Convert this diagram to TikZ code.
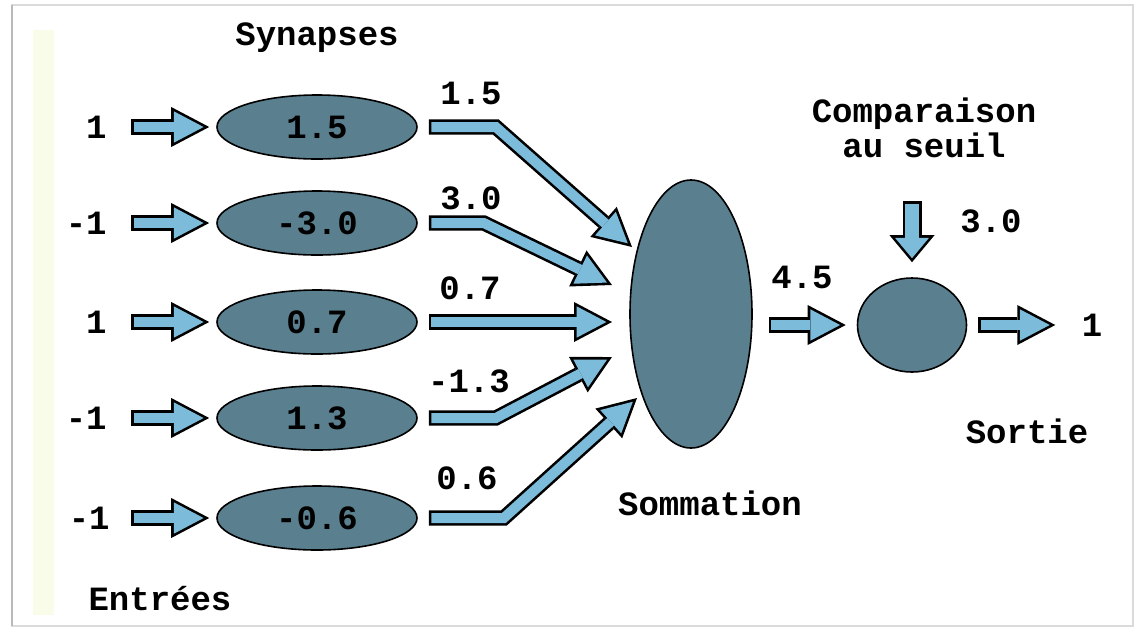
\documentclass[tikz,border=0pt]{standalone}
\usepackage{fontspec}
\setmainfont{Liberation Mono}
\usetikzlibrary{arrows.meta,shapes.geometric}

\definecolor{nodefill}{RGB}{90,128,143}
\definecolor{arrowfill}{RGB}{125,187,219}
\definecolor{framegray}{RGB}{218,218,218}
\definecolor{edgegray}{RGB}{185,185,185}
\definecolor{stripyellow}{RGB}{249,252,232}

\tikzset{
  lbl/.style={font=\fontsize{17}{17.5}\selectfont\bfseries, inner sep=0pt},
  cell/.style={ellipse, draw=black, line width=0.8pt, fill=nodefill,
    inner sep=0pt, font=\fontsize{17}{17.5}\selectfont\bfseries},
  synapse/.style={cell, minimum width=100pt, minimum height=32pt},
  % outlined block arrow: black outer layer, light blue inner layer
  blockarrow/.style={
    draw=arrowfill, line width=5pt, line join=miter, line cap=butt,
    -{Triangle[width=15.7pt,length=14.9pt,line width=0pt]},
    shorten <=1.3pt, shorten >=2.8pt,
    preaction={draw=black, line width=7.6pt,
      -{Triangle[width=20pt,length=19pt,line width=0pt]},
      shorten <=0pt, shorten >=0pt}},
  droparrow/.style={
    draw=arrowfill, line width=6.9pt, line join=miter, line cap=butt,
    -{Triangle[width=17pt,length=10.2pt,line width=0pt]},
    shorten <=1.3pt, shorten >=2.0pt,
    preaction={draw=black, line width=9.5pt,
      -{Triangle[width=22.5pt,length=13.5pt,line width=0pt]},
      shorten <=0pt, shorten >=0pt}}
}

\begin{document}
\begin{tikzpicture}[x=0.5pt, y=-0.5pt]
  \useasboundingbox (0,0) rectangle (1135,628);
  \fill[white] (0,0) rectangle (1135,628);

  % page frame and margin strip
  \fill[stripyellow] (33,30) rectangle (54,615);
  \draw[framegray, line width=1pt] (12,5) rectangle (1133,626);
  \draw[edgegray, line width=1.4pt] (12,5) -- (12,626);

  % synapse weights
  \node[synapse] (syn1) at (317,127) {1.5};
  \node[synapse] (syn2) at (317,223) {-3.0};
  \node[synapse] (syn3) at (317,322) {0.7};
  \node[synapse] (syn4) at (317,418) {1.3};
  \node[synapse] (syn5) at (317,518) {-0.6};

  % summation and threshold units
  \node[cell, minimum width=61pt, minimum height=134pt] (sum) at (691,314) {};
  \node[cell, minimum width=54.5pt, minimum height=47pt] (thr) at (912,325) {};

  % inputs
  \node[lbl, anchor=east] (in1) at (107,127) {1};
  \node[lbl, anchor=east] (in2) at (107,223) {-1};
  \node[lbl, anchor=east] (in3) at (107,322) {1};
  \node[lbl, anchor=east] (in4) at (107,418) {-1};
  \node[lbl, anchor=east] (in5) at (110,518) {-1};

  % weighted values
  \node[lbl] (w1) at (471,93) {1.5};
  \node[lbl] (w2) at (471,198) {3.0};
  \node[lbl] (w3) at (470,288) {0.7};
  \node[lbl] (w4) at (469,381) {-1.3};
  \node[lbl] (w5) at (467,478) {0.6};

  % captions
  \node[lbl, anchor=base] (tsyn) at (317,45) {Synapses};
  \node[lbl, anchor=base] (tin) at (160,610) {Entrées};
  \node[lbl, anchor=base] (tsum) at (710,515) {Sommation};
  \node[lbl, align=center] (tcmp) at (924,128) {Comparaison\\au seuil};
  \node[lbl, anchor=base] (tout) at (1027,443) {Sortie};
  \node[lbl] (vsum) at (802,277) {4.5};
  \node[lbl] (vthr) at (991,221) {3.0};
  \node[lbl] (vout) at (1092,325) {1};

  % arrow end points at the summation unit
  \coordinate (t1) at (632,247);
  \coordinate (t2) at (612,285);
  \coordinate (t3) at (612,322);
  \coordinate (t4) at (612,357);
  \coordinate (t5) at (637,398);

  % input arrows
  \foreach \i in {1,...,5}
    \draw[blockarrow] ([xshift=-42.5pt]syn\i.west) -- ([xshift=-3.5pt]syn\i.west);

  % weighted arrows into the summation
  \draw[blockarrow] ([xshift=5.5pt]syn1.east) -- ++(67,0) -- (t1);
  \draw[blockarrow] ([xshift=5.5pt]syn2.east) -- ++(55,0) -- (t2);
  \draw[blockarrow] ([xshift=5.5pt]syn3.east) -- (t3);
  \draw[blockarrow] ([xshift=5.5pt]syn4.east) -- ++(67,0) -- (t4);
  \draw[blockarrow] ([xshift=5.5pt]syn5.east) -- ++(75,0) -- (t5);

  % sum to threshold, threshold input, output
  \draw[blockarrow] (sum.east |- thr.west) ++(16,0) -- ([xshift=-5.5pt]thr.west);
  \draw[droparrow] ([yshift=38pt]thr.north) -- ([yshift=7.5pt]thr.north);
  \draw[blockarrow] ([xshift=5.5pt]thr.east) -- ([xshift=44pt]thr.east);
\end{tikzpicture}
\end{document}
